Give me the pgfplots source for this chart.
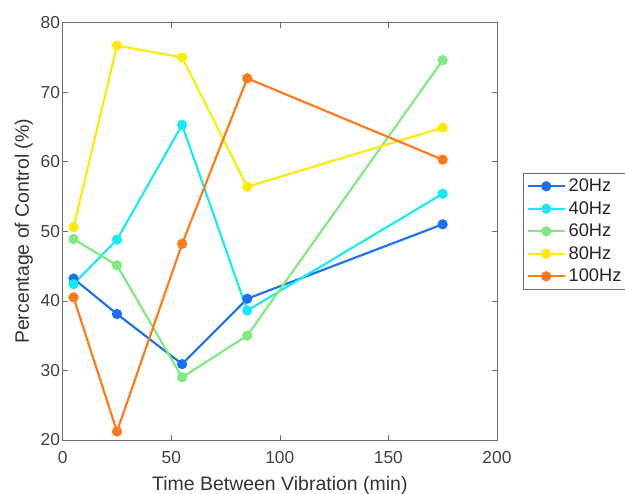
\documentclass[border=0pt]{standalone}
\usepackage{pgfplots}
\pgfplotsset{compat=1.18}
\usepackage{fontspec}
\setmainfont{Liberation Sans}
\definecolor{c20}{RGB}{25,112,240}
\definecolor{c40}{RGB}{20,235,250}
\definecolor{c60}{RGB}{125,235,125}
\definecolor{c80}{RGB}{255,235,0}
\definecolor{c100}{RGB}{255,120,25}
\definecolor{axgray}{RGB}{110,110,110}
\begin{document}
\begin{tikzpicture}
\begin{axis}[
  scale only axis,
  width=325.5pt, height=312.75pt,
  xmin=0, xmax=200, ymin=20, ymax=80,
  xtick={0,50,100,150,200}, ytick={20,30,40,50,60,70,80},
  tick align=inside, tick pos=both,
  major tick length=4pt,
  axis line style={axgray},
  every tick/.style={axgray},
  tick label style={font=\fontsize{13}{15}\selectfont, text=black!75},
  xticklabel style={yshift=-5pt},
  yticklabel style={xshift=1.5pt},
  /pgf/number format/assume math mode=true,
  xlabel={Time Between Vibration (min)},
  ylabel={Percentage of Control (\%)},
  label style={font=\fontsize{14.6}{17}\selectfont, text=black!80},
  xlabel style={yshift=-2.5pt},
  ylabel style={yshift=-1pt},
  legend style={at={(1.06,0.5)}, anchor=west, font=\fontsize{13.7}{15}\selectfont,
    draw=axgray, row sep=1.8pt, inner sep=2.5pt, text=black!85},
  legend cell align=left,
  legend image code/.code={
    \draw[#1] (0cm,0cm) -- (0.98cm,0cm);
    \draw[#1, mark repeat=1] plot coordinates {(0.49cm,0cm)};
  },
  every axis plot/.append style={line width=1.6pt, mark=*, mark size=3pt},
]
\addplot[c20, mark options={fill=c20, draw=c20}] coordinates {(5,43.2) (25,38.1) (55,30.9) (85,40.3) (175,51.0)};
\addlegendentry{20Hz}
\addplot[c40, mark options={fill=c40, draw=c40}] coordinates {(5,42.4) (25,48.8) (55,65.3) (85,38.6) (175,55.4)};
\addlegendentry{40Hz}
\addplot[c60, mark options={fill=c60, draw=c60}] coordinates {(5,48.9) (25,45.1) (55,29.0) (85,35.0) (175,74.6)};
\addlegendentry{60Hz}
\addplot[c80, mark options={fill=c80, draw=c80}] coordinates {(5,50.6) (25,76.7) (55,75.0) (85,56.4) (175,64.9)};
\addlegendentry{80Hz}
\addplot[c100, mark options={fill=c100, draw=c100}] coordinates {(5,40.5) (25,21.2) (55,48.2) (85,72.0) (175,60.3)};
\addlegendentry{100Hz}
\end{axis}
\pgfresetboundingbox
\path[use as bounding box] ([shift={(-47pt,-40pt)}]current axis.south west) rectangle ([shift={(96pt,17pt)}]current axis.north east);
\end{tikzpicture}
\end{document}
